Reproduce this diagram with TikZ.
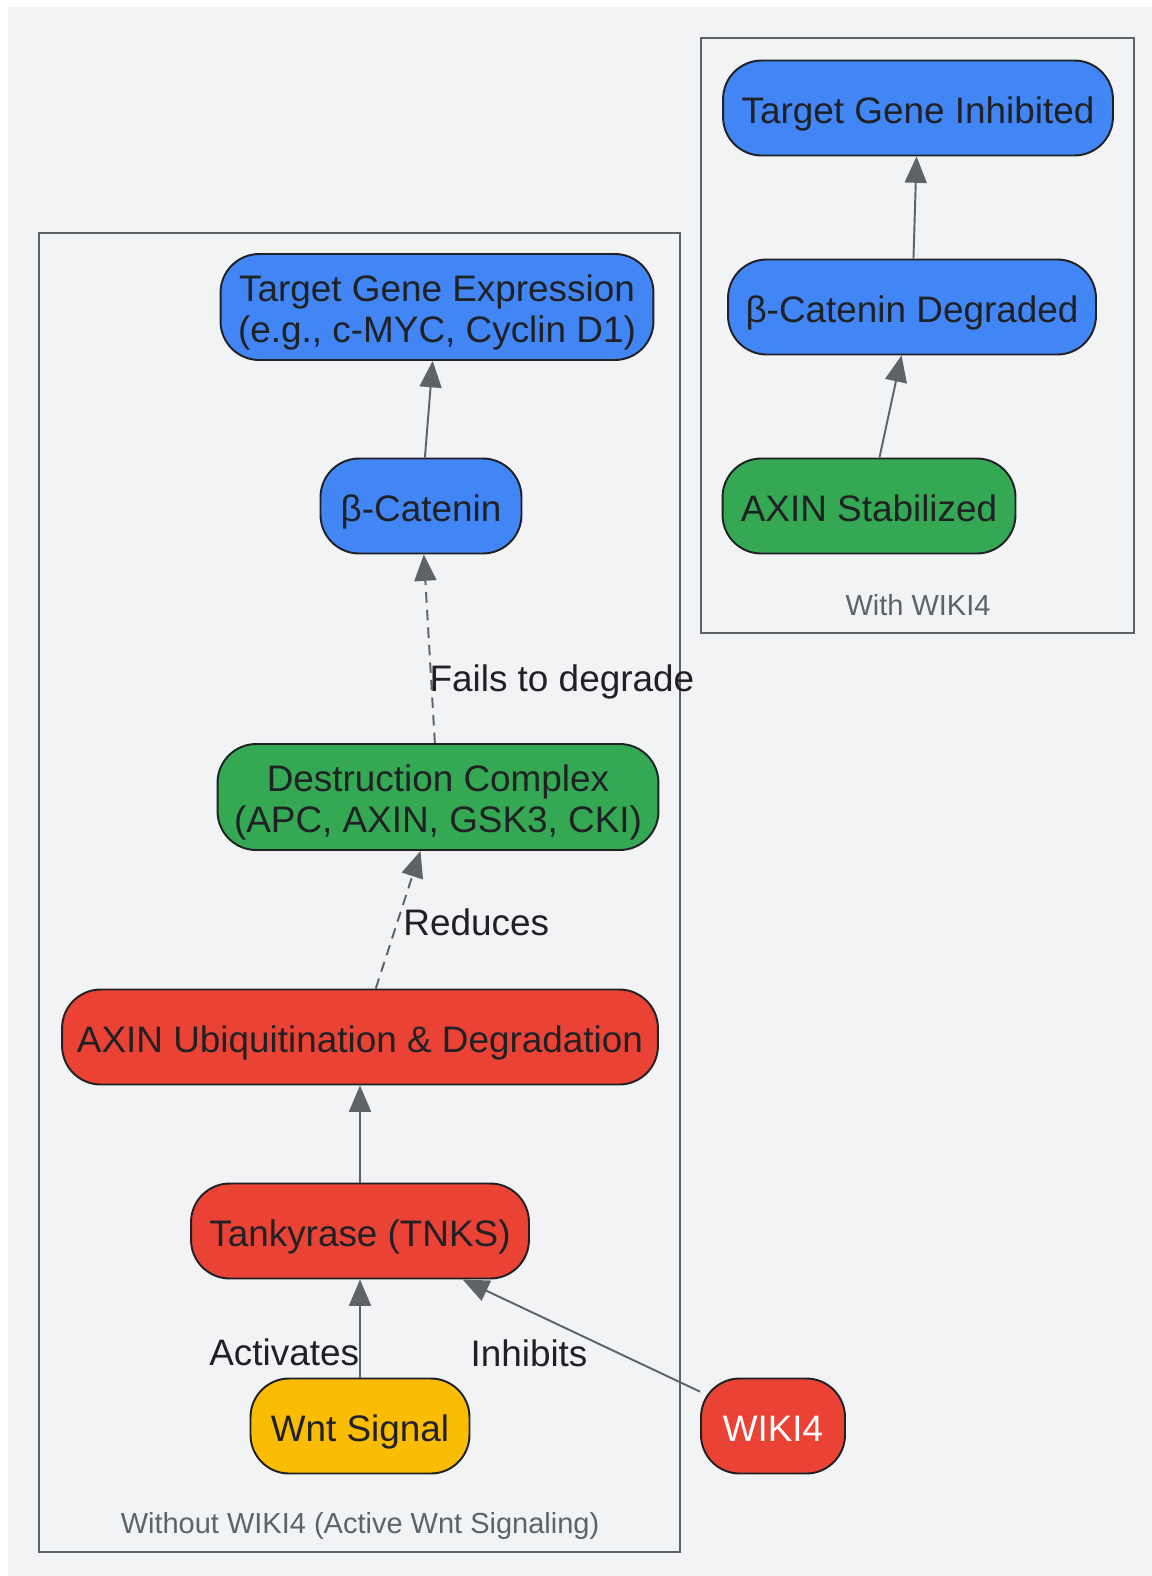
\documentclass[tikz,border=0pt]{standalone}
\usepackage{fontspec}
\setmainfont{Liberation Sans}
\usetikzlibrary{arrows.meta}
\definecolor{bgc}{HTML}{F1F3F4}
\definecolor{ink}{HTML}{202124}
\definecolor{edgec}{HTML}{5F6368}
\definecolor{gblue}{HTML}{4285F4}
\definecolor{ggreen}{HTML}{34A853}
\definecolor{gred}{HTML}{EA4335}
\definecolor{gyellow}{HTML}{FBBC04}
\newcommand{\lift}{\rule[-4.4pt]{0pt}{25.9pt}}
\tikzstyle{box} = [rectangle, rounded corners=22pt, draw=ink, line width=1.1pt, text=ink, inner xsep=4pt, inner ysep=2pt, minimum height=1.9cm, align=center, font=\fontsize{21}{23.4}\selectfont]
\tikzstyle{outb} = [box, fill=gblue]
\tikzstyle{cplx} = [box, fill=ggreen]
\tikzstyle{inh} = [box, fill=gred]
\tikzstyle{act} = [box, fill=gyellow]
\tikzstyle{arrow} = [line width=1.1pt, draw=edgec, -{Triangle[length=15pt,width=12.5pt]}]
\tikzstyle{darrow} = [arrow, dash pattern=on 6pt off 4pt]
\tikzstyle{lbl} = [inner sep=0pt, text=ink, font=\fontsize{21}{23.4}\selectfont]
\tikzstyle{clust} = [draw=edgec, line width=1.4pt]
\tikzstyle{cname} = [inner sep=0pt, text=edgec, font=\fontsize{16.5}{20}\selectfont]

\begin{document}
\begin{tikzpicture}[x=0.02cm, y=-0.02cm]
	\useasboundingbox (0,0) rectangle (1152,1576);
	\fill[bgc] (8,7) rectangle (1152,1576);
	% clusters
	\draw[clust] (39,233) rectangle (680,1552);
	\draw[clust] (701,38) rectangle (1134,633);
	\node (without) [cname] at (360,1526) {Without WIKI4 (Active Wnt Signaling)};
	\node (with) [cname] at (918,605) {With WIKI4};
	% without WIKI4
	\node (wnt) [act, minimum width=4.38cm] at (360,1426) {\lift Wnt Signal};
	\node (tnks) [inh, minimum width=6.76cm] at (360,1231) {\lift Tankyrase (TNKS)};
	\node (axinub) [inh, minimum width=11.92cm] at (360,1037) {\lift AXIN Ubiquitination \& Degradation};
	\node (dcomp) [cplx, minimum width=8.82cm, minimum height=2.12cm] at (438,797) {\lift Destruction Complex\\(APC, AXIN, GSK3, CKI)};
	\node (bcat) [outb, minimum width=4.02cm] at (421,506) {\lift β-Catenin};
	\node (tgexp) [outb, minimum width=8.66cm, minimum height=2.12cm] at (437,307) {\lift Target Gene Expression\\(e.g., c-MYC, Cyclin D1)};
	% with WIKI4
	\node (wiki) [inh, minimum width=2.88cm, text=white] at (773,1426) {\lift WIKI4};
	\node (axinst) [cplx, minimum width=5.86cm] at (869,506) {\lift AXIN Stabilized};
	\node (bdeg) [outb, minimum width=7.36cm] at (912,307) {\lift β-Catenin Degraded};
	\node (tginh) [outb, minimum width=7.8cm] at (918,108) {\lift Target Gene Inhibited};
	% edges
	\draw [arrow] (wnt) -- node[lbl, pos=0.26, anchor=east] {Activates} (tnks);
	\draw [arrow] (wiki) -- node[lbl, pos=0.47, anchor=north east] {Inhibits} (tnks);
	\draw [arrow] (tnks) -- (axinub);
	\draw [darrow] (axinub) -- node[lbl, pos=0.48, anchor=west, xshift=3pt] {Reduces} (dcomp);
	\draw [darrow] (dcomp) -- node[lbl, pos=0.325, anchor=west, xshift=-1.5pt] {Fails to degrade} (bcat);
	\draw [arrow] (bcat) -- (tgexp);
	\draw [arrow] (axinst) -- (bdeg);
	\draw [arrow] (bdeg) -- (tginh);
\end{tikzpicture}
\end{document}
